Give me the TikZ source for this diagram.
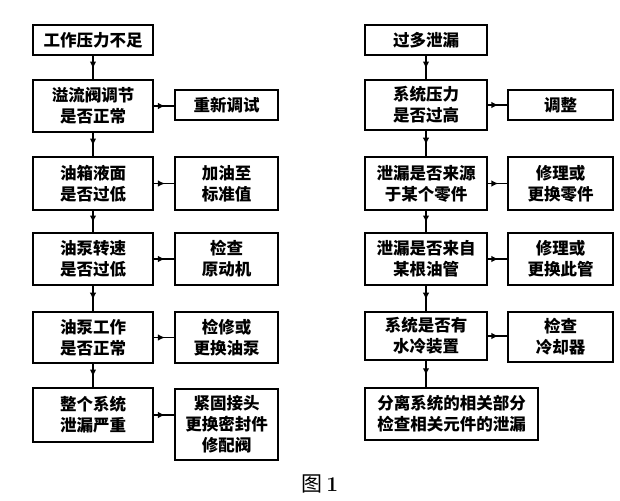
\documentclass[tikz,border=0pt]{standalone}
\usepackage{fontspec}
\newfontfamily\cjk{Noto Sans CJK SC}
\usetikzlibrary{arrows.meta,decorations.markings}
\begin{document}
\begin{tikzpicture}[x=1pt,y=-1pt,
  box/.style={draw, line width=2.2pt, inner sep=0pt, align=center,
    font=\cjk\bfseries\fontsize{16.5}{21}\selectfont},
  mainbox/.style={box, minimum width=120pt},
  rmainbox/.style={box, minimum width=122pt},
  sidebox/.style={box, minimum width=103pt},
  rsidebox/.style={box, minimum width=105pt},
  conn/.style={line width=1.8pt, postaction={decorate},
    decoration={markings, mark=at position 0.55 with {\arrow{Latex[length=7pt,width=6.5pt]}}}}
]
\fill[white] (0,0) rectangle (620,500);
\useasboundingbox (0,0) rectangle (620,500);
% left column
\node[mainbox, minimum height=30pt] (L1) at (93,40) {工作压力不足};
\node[mainbox, minimum height=52pt] (L2) at (93,106) {溢流阀调节\\是否正常};
\node[mainbox, minimum height=53pt] (L3) at (93,183.5) {油箱液面\\是否过低};
\node[mainbox, minimum height=52pt] (L4) at (93,259) {油泵转速\\是否过低};
\node[mainbox, minimum height=51pt] (L5) at (93,337.5) {油泵工作\\是否正常};
\node[mainbox, minimum height=54pt] (L6) at (93,415) {整个系统\\泄漏严重};
\node[sidebox, minimum height=30pt] (S2) at (226.5,105) {重新调试};
\node[sidebox, minimum height=53pt] (S3) at (226.5,183.5) {加油至\\标准值};
\node[sidebox, minimum height=52pt] (S4) at (226.5,259) {检查\\原动机};
\node[sidebox, minimum height=51pt] (S5) at (226.5,337.5) {检修或\\更换油泵};
\node[sidebox, minimum height=71pt] (S6) at (226.5,424.5) {紧固接头\\更换密封件\\修配阀};
% right column
\node[rmainbox, minimum height=30pt] (R1) at (426,40) {过多泄漏};
\node[rmainbox, minimum height=50pt] (R2) at (426,105) {系统压力\\是否过高};
\node[rmainbox, minimum height=53pt] (R3) at (426,183.5) {泄漏是否来源\\于某个零件};
\node[rmainbox, minimum height=52pt] (R4) at (426,259) {泄漏是否来自\\某根油管};
\node[rmainbox, minimum height=48pt] (R5) at (426,336) {系统是否有\\水冷装置};
\node[box, minimum width=173pt, minimum height=52pt] (R6) at (451.5,414) {分离系统的相关部分\\检查相关元件的泄漏};
\node[rsidebox, minimum height=30pt] (T2) at (560.5,105) {调整};
\node[rsidebox, minimum height=53pt] (T3) at (560.5,183.5) {修理或\\更换零件};
\node[rsidebox, minimum height=52pt] (T4) at (560.5,259) {修理或\\更换此管};
\node[rsidebox, minimum height=50pt] (T5) at (560.5,337) {检查\\冷却器};
% caption
\node[font=\fontsize{21}{23}\selectfont] (cap) at (320,484) {{\cjk 图}\,{\rmfamily\bfseries 1}};
% vertical connectors
\draw[conn] (L1.south) -- (L2.north);
\draw[conn] (L2.south) -- (L3.north);
\draw[conn] (L3.south) -- (L4.north);
\draw[conn] (L4.south) -- (L5.north);
\draw[conn] (L5.south) -- (L6.north);
\draw[conn] (R1.south) -- (R2.north);
\draw[conn] (R2.south) -- (R3.north);
\draw[conn] (R3.south) -- (R4.north);
\draw[conn] (R4.south) -- (R5.north);
\draw[conn] (R5.south) -- (R5.south |- R6.north);
% horizontal connectors
\draw[conn] (L2.east) -- (L2.east -| S2.west);
\draw[conn] (L3.east) -- (S3.west);
\draw[conn] (L4.east) -- (S4.west);
\draw[conn] (L5.east) -- (S5.west);
\draw[conn] (L6.east) -- (L6.east -| S6.west);
\draw[conn] (R2.east) -- (R2.east -| T2.west);
\draw[conn] (R3.east) -- (T3.west);
\draw[conn] (R4.east) -- (T4.west);
\draw[conn] (R5.east) -- (R5.east -| T5.west);
\end{tikzpicture}
\end{document}
